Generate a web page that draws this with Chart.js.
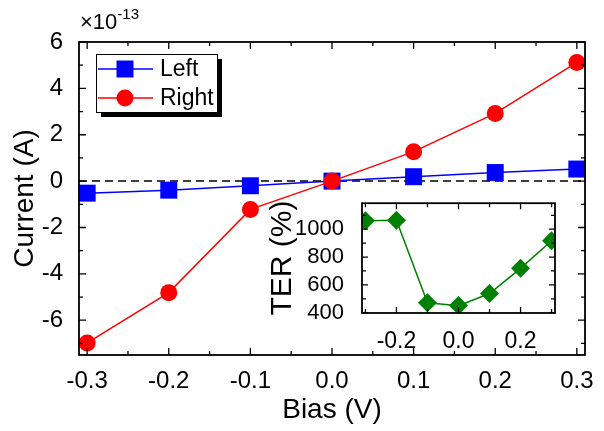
<!DOCTYPE html>
<html>
<head>
<meta charset="utf-8">
<script src="https://cdn.jsdelivr.net/npm/chart.js@4.4.1/dist/chart.umd.min.js"></script>
<style>
  html, body { margin: 0; padding: 0; background: #fff; }
  #wrap { position: relative; width: 604px; height: 431px; }
  #mainChart { position: absolute; left: 0; top: 0; }
  #insetChart { position: absolute; left: 255px; top: 180px; }
</style>
</head>
<body>
<div id="wrap">
  <canvas id="mainChart" width="604" height="431"></canvas>
  <canvas id="insetChart" width="320" height="175"></canvas>
</div>
<script>
// ---- data (current in units of 1e-13 A) ----
const bias = [-0.3, -0.2, -0.1, 0, 0.1, 0.2, 0.3];
const currentLeft = [-0.52, -0.39, -0.20, 0, 0.19, 0.37, 0.52];
const currentRight = [-6.98, -4.81, -1.22, 0, 1.27, 2.92, 5.12];
const ter = [1060, 1065, 472, 451, 538, 719, 917];

const xTicks = [-0.3, -0.2, -0.1, 0, 0.1, 0.2, 0.3];
const yTicks = [-6, -4, -2, 0, 2, 4, 6];
const insetXTicks = [-0.2, 0, 0.2];
const insetYTicks = [400, 600, 800, 1000];

Chart.defaults.font.family = "'Liberation Sans', Arial, sans-serif";
Chart.defaults.color = '#000';

const pts = (xs, ys) => xs.map((x, i) => ({ x: x, y: ys[i] }));

// box frame with inward ticks on all four sides
const frameTicks = {
  id: 'frameTicks',
  afterDatasetsDraw(chart, args, o) {
    const { ctx, chartArea: a, scales: { x, y } } = chart;
    const isMajor = (v, step) => Math.abs(v / step - Math.round(v / step)) < 1e-6;
    ctx.save();
    ctx.strokeStyle = '#000';
    ctx.lineWidth = 1.3;
    ctx.beginPath();
    for (let i = Math.ceil(x.min / o.xMinor - 1e-6); i * o.xMinor <= x.max + 1e-9; i++) {
      const v = i * o.xMinor;
      const len = isMajor(v, o.xMajor) ? o.major : o.minor;
      const px = x.getPixelForValue(v);
      ctx.moveTo(px, a.bottom); ctx.lineTo(px, a.bottom - len);
      ctx.moveTo(px, a.top); ctx.lineTo(px, a.top + len);
    }
    for (let i = Math.ceil(y.min / o.yMinor - 1e-6); i * o.yMinor <= y.max + 1e-9; i++) {
      const v = i * o.yMinor;
      const len = isMajor(v, o.yMajor) ? o.major : o.minor;
      const py = y.getPixelForValue(v);
      ctx.moveTo(a.left, py); ctx.lineTo(a.left + len, py);
      ctx.moveTo(a.right, py); ctx.lineTo(a.right - len, py);
    }
    ctx.stroke();
    ctx.lineWidth = 1.8;
    ctx.strokeRect(a.left, a.top, a.right - a.left, a.bottom - a.top);
    ctx.restore();
  }
};

// dashed line at zero current
const zeroLine = {
  id: 'zeroLine',
  beforeDatasetsDraw(chart) {
    const { ctx, chartArea: a, scales: { y } } = chart;
    const py = y.getPixelForValue(0);
    ctx.save();
    ctx.setLineDash([8, 5]);
    ctx.lineWidth = 1.5;
    ctx.strokeStyle = '#000';
    ctx.beginPath();
    ctx.moveTo(a.left, py);
    ctx.lineTo(a.right, py);
    ctx.stroke();
    ctx.restore();
  }
};

// legend box with drop shadow + axis multiplier
const boxLegend = {
  id: 'boxLegend',
  afterDraw(chart) {
    const ctx = chart.ctx;
    const bx = 96, by = 54, bw = 121, bh = 58;
    ctx.save();
    ctx.fillStyle = '#000';
    ctx.fillRect(bx + 5, by + 5, bw, bh);
    ctx.fillStyle = '#fff';
    ctx.fillRect(bx, by, bw, bh);
    ctx.strokeStyle = '#000';
    ctx.lineWidth = 1;
    ctx.strokeRect(bx + 0.5, by + 0.5, bw, bh);

    chart.data.datasets.forEach((ds, i) => {
      const ly = by + 15 + i * 29;
      ctx.strokeStyle = ds.borderColor;
      ctx.lineWidth = ds.borderWidth;
      ctx.beginPath();
      ctx.moveTo(bx + 2, ly);
      ctx.lineTo(bx + 57, ly);
      ctx.stroke();
      ctx.fillStyle = ds.pointBackgroundColor;
      Chart.helpers.drawPoint(ctx, { pointStyle: ds.pointStyle, radius: ds.pointRadius, rotation: 0, borderWidth: 0 }, bx + 29, ly);
      ctx.fillStyle = '#000';
      ctx.font = "23px 'Liberation Sans', Arial, sans-serif";
      ctx.textBaseline = 'middle';
      ctx.textAlign = 'left';
      ctx.fillText(ds.label, bx + 64, ly + 1);
    });

    // x10^-13
    ctx.font = "22px 'Liberation Sans', Arial, sans-serif";
    ctx.textBaseline = 'alphabetic';
    ctx.fillText('\u00d710', 80, 29);
    const w = ctx.measureText('\u00d710').width;
    ctx.font = "15px 'Liberation Sans', Arial, sans-serif";
    ctx.fillText('-13', 80 + w, 19);
    ctx.restore();
  }
};

new Chart(document.getElementById('mainChart'), {
  type: 'line',
  data: {
    datasets: [
      {
        label: 'Left',
        data: pts(bias, currentLeft),
        borderColor: '#0000ff',
        backgroundColor: '#0000ff',
        pointBackgroundColor: '#0000ff',
        pointStyle: 'rect',
        pointRadius: 12,
        pointBorderWidth: 0,
        borderWidth: 1.5,
        clip: false,
        order: 1
      },
      {
        label: 'Right',
        data: pts(bias, currentRight),
        borderColor: '#ff0000',
        backgroundColor: '#ff0000',
        pointBackgroundColor: '#ff0000',
        pointStyle: 'circle',
        pointRadius: 8.5,
        pointBorderWidth: 0,
        borderWidth: 1.5,
        clip: false,
        order: 0
      }
    ]
  },
  options: {
    responsive: false,
    animation: false,
    layout: { padding: { top: 42, right: 19, left: 0, bottom: 0 } },
    plugins: {
      legend: { display: false },
      tooltip: { enabled: false },
      frameTicks: { xMajor: 0.1, xMinor: 0.05, yMajor: 2, yMinor: 1, major: 7, minor: 4 }
    },
    scales: {
      x: {
        type: 'linear',
        min: -0.31,
        max: 0.31,
        grid: { display: false },
        border: { display: false },
        afterBuildTicks: s => { s.ticks = xTicks.map(v => ({ value: v })); },
        afterFit: s => { s.height = 76; },
        ticks: {
          font: { size: 24 },
          padding: 4,
          autoSkip: false,
          maxRotation: 0,
          callback: v => v.toFixed(1)
        },
        title: { display: true, text: 'Bias (V)', font: { size: 28 }, padding: { top: 0, bottom: 4 } }
      },
      y: {
        type: 'linear',
        min: -7.5,
        max: 6,
        grid: { display: false },
        border: { display: false },
        afterBuildTicks: s => { s.ticks = yTicks.map(v => ({ value: v })); },
        afterFit: s => { s.width = 79; },
        ticks: {
          font: { size: 24 },
          padding: 8,
          autoSkip: false,
          callback: v => String(v)
        },
        title: { display: true, text: 'Current (A)', font: { size: 28 }, padding: { top: 8, bottom: 0 } }
      }
    }
  },
  plugins: [zeroLine, frameTicks, boxLegend]
});

// ---- inset: TER vs bias ----
new Chart(document.getElementById('insetChart'), {
  type: 'line',
  data: {
    datasets: [{
      label: 'TER',
      data: pts(bias, ter),
      borderColor: '#008000',
      backgroundColor: '#008000',
      pointBackgroundColor: '#008000',
      pointStyle: 'rectRot',
      pointRadius: 9.5,
      pointBorderWidth: 0,
      borderWidth: 1.5,
      clip: 0
    }]
  },
  options: {
    responsive: false,
    animation: false,
    layout: { padding: { top: 13, right: 20, left: 0, bottom: 0 } },
    plugins: {
      legend: { display: false },
      tooltip: { enabled: false },
      frameTicks: { xMajor: 0.2, xMinor: 0.1, yMajor: 200, yMinor: 100, major: 6, minor: 4 }
    },
    scales: {
      x: {
        type: 'linear',
        min: -0.311,
        max: 0.311,
        grid: { display: false },
        border: { display: false },
        afterBuildTicks: s => { s.ticks = insetXTicks.map(v => ({ value: v })); },
        afterFit: s => { s.height = 42; },
        ticks: {
          font: { size: 23 },
          padding: 7,
          autoSkip: false,
          maxRotation: 0,
          callback: v => v.toFixed(1)
        }
      },
      y: {
        type: 'linear',
        min: 398,
        max: 1187,
        grid: { display: false },
        border: { display: false },
        afterBuildTicks: s => { s.ticks = insetYTicks.map(v => ({ value: v })); },
        afterFit: s => { s.width = 107; },
        ticks: {
          font: { size: 22 },
          padding: 10,
          autoSkip: false,
          callback: v => String(v)
        },
        title: { display: true, text: 'TER (%)', font: { size: 30 }, padding: { top: 10, bottom: 0 } }
      }
    }
  },
  plugins: [frameTicks]
});
</script>
</body>
</html>
